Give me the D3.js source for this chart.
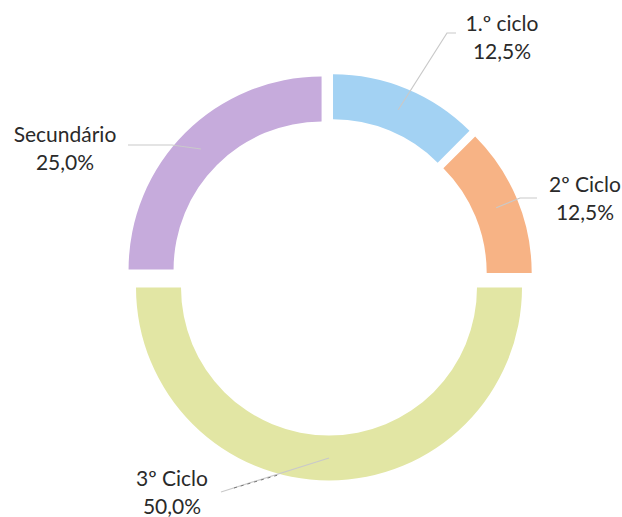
<!DOCTYPE html>
<html>
<head>
<meta charset="utf-8">
<script src="https://cdn.jsdelivr.net/npm/d3@7"></script>
<style>
  body { margin: 0; background: #fff; }
  svg { display: block; }
</style>
</head>
<body>
<svg id="chart"></svg>
<script>
const categories = ["1.º ciclo", "2º Ciclo", "3º Ciclo", "Secundário"];
const values = [12.5, 12.5, 50.0, 25.0];

const colors = ["#a3d2f3", "#f7b385", "#e2e6a4", "#c6abdc"];
// label centre, elbow of leader line, end of leader line
const labelLayout = [
    { x: 502, y: 22, elbow: [447, 33], end: [456, 33] },
    { x: 585, y: 183, elbow: [520, 198], end: [537, 198] },
    { x: 172, y: 477, elbow: [221, 492], end: [221, 492] },
    { x: 65, y: 133, elbow: [172, 145], end: [128, 145] }
];

const width = 622;
const height = 517;
const cx = 329, cy = 277;
const outerR = 193, innerR = 148;
const explode = 10.5;

const svg = d3.select("#chart")
    .attr("width", width)
    .attr("height", height);

const data = categories.map((c, i) => ({ name: c, value: values[i], i }));

const pie = d3.pie()
    .sort(null)
    .value(d => d.value);

const arc = d3.arc()
    .innerRadius(innerR)
    .outerRadius(outerR);

const arcs = pie(data);

const g = svg.append("g")
    .attr("transform", `translate(${cx}, ${cy})`);

// offset of each exploded slice
const offset = d => {
    const mid = (d.startAngle + d.endAngle) / 2;
    return [explode * Math.sin(mid), -explode * Math.cos(mid)];
};

g.selectAll("path.slice")
    .data(arcs)
    .join("path")
    .attr("class", "slice")
    .attr("transform", d => `translate(${offset(d)[0]}, ${offset(d)[1]})`)
    .attr("d", arc)
    .attr("fill", d => colors[d.data.i]);

// Leader lines
arcs.forEach(d => {
    const o = offset(d);
    const c = arc.centroid(d);
    const L = labelLayout[d.data.i];
    const pts = [
        [cx + c[0] + o[0], cy + c[1] + o[1]],
        L.elbow,
        L.end
    ];
    svg.append("path")
        .attr("d", d3.line()(pts))
        .attr("fill", "none")
        .attr("stroke", "#c9c9c9")
        .attr("stroke-width", 1.2);
    if (d.data.i === 2) {
        svg.append("line")
            .attr("x1", 234).attr("y1", 488)
            .attr("x2", 278).attr("y2", 475)
            .attr("stroke", "#777")
            .attr("stroke-width", 1)
            .attr("stroke-dasharray", "3,4");
    }
});

// Labels
const fmt = v => d3.format(".1f")(v).replace(".", ",") + "%";

arcs.forEach(d => {
    const L = labelLayout[d.data.i];
    const t = svg.append("text")
        .attr("x", L.x)
        .attr("y", L.y)
        .attr("text-anchor", "middle")
        .attr("dominant-baseline", "central")
        .style("font-family", "Lato, 'Open Sans', sans-serif")
        .style("font-size", "21px")
        .attr("fill", "#2a2a2a");
    t.append("tspan").attr("x", L.x).attr("dy", 0).text(d.data.name);
    t.append("tspan").attr("x", L.x).attr("dy", 28).text(fmt(d.data.value));
});
</script>
</body>
</html>
